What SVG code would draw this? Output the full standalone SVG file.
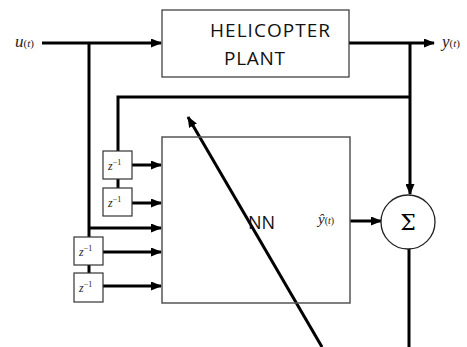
<svg xmlns="http://www.w3.org/2000/svg" width="467" height="347" viewBox="0 0 467 347">
<style>
.box{fill:#fff;stroke:#333;stroke-width:1.2}
.nn{fill:none;stroke:#555;stroke-width:1.5}
.w{fill:none;stroke:#000;stroke-width:3}
.lbl{font-family:"Open Sans","Liberation Sans",sans-serif;fill:#111}
.m{font-family:"Liberation Serif","DejaVu Serif",serif;font-style:italic;fill:#222}
.z{font-family:"Liberation Serif","DejaVu Serif",serif;font-style:italic;font-size:12px;fill:#222}
</style>
<defs>
<marker id="ah" markerWidth="11" markerHeight="9" refX="10" refY="4.5" orient="auto" markerUnits="userSpaceOnUse">
<path d="M0,0 L11,4.5 L0,9 Z" fill="#000"/>
</marker>
</defs>
<rect width="467" height="347" fill="#fff"/>
<g id="connectors">
<path class="w" d="M42,43 H161" marker-end="url(#ah)"/>
<path class="w" d="M349,43 H434" marker-end="url(#ah)"/>
<path class="w" d="M89,43 V237"/>
<path class="w" d="M89,228 H161" marker-end="url(#ah)"/>
<path class="w" d="M89,265 V273"/>
<path class="w" d="M103,252 H161" marker-end="url(#ah)"/>
<path class="w" d="M103,286 H161" marker-end="url(#ah)"/>
<path class="w" d="M410,43 V194" marker-end="url(#ah)"/>
<path class="w" d="M410,97 H118 V151"/>
<path class="w" d="M118,179 V188"/>
<path class="w" d="M132,165 H161" marker-end="url(#ah)"/>
<path class="w" d="M132,203 H161" marker-end="url(#ah)"/>
<path class="w" d="M350,221 H381" marker-end="url(#ah)"/>
<path class="w" d="M409,249 V347"/>
<path class="w" d="M322,347 L188,117" marker-end="url(#ah)"/>
</g>
<g id="plant">
<rect class="box" x="162" y="10" width="187" height="67"/>
<text class="lbl" x="210" y="37" font-size="19" textLength="120" lengthAdjust="spacing">HELICOPTER</text>
<text class="lbl" x="224" y="65" font-size="19" textLength="61" lengthAdjust="spacing">PLANT</text>
</g>
<g id="nn">
<rect class="nn" x="162" y="137" width="188" height="166"/>
<text class="lbl" x="248" y="229" font-size="18">NN</text>
<text class="m" x="318" y="224" font-size="15">ŷ<tspan font-size="10" font-style="normal">(</tspan><tspan font-size="10">t</tspan><tspan font-size="10" font-style="normal">)</tspan></text>
</g>
<g id="sum">
<circle cx="408" cy="222" r="27" fill="#fff" stroke="#222" stroke-width="1.3"/>
<text x="408" y="230" font-size="22" text-anchor="middle" font-family="'DejaVu Serif','Liberation Serif',serif">Σ</text>
</g>
<g id="z1">
<rect class="box" x="103" y="151" width="29" height="28"/>
<text class="z" x="108" y="170">z<tspan font-style="normal" font-size="8" dy="-5">−1</tspan></text>
</g>
<g id="z2">
<rect class="box" x="103" y="188" width="29" height="28"/>
<text class="z" x="108" y="207">z<tspan font-style="normal" font-size="8" dy="-5">−1</tspan></text>
</g>
<g id="z3">
<rect class="box" x="74" y="237" width="29" height="28"/>
<text class="z" x="79" y="256">z<tspan font-style="normal" font-size="8" dy="-5">−1</tspan></text>
</g>
<g id="z4">
<rect class="box" x="74" y="273" width="29" height="29"/>
<text class="z" x="79" y="292">z<tspan font-style="normal" font-size="8" dy="-5">−1</tspan></text>
</g>
<g id="labels">
<text class="m" x="15" y="47" font-size="17">u<tspan font-size="11" font-style="normal">(</tspan><tspan font-size="11">t</tspan><tspan font-size="11" font-style="normal">)</tspan></text>
<text class="m" x="442" y="47" font-size="17">y<tspan font-size="11" font-style="normal">(</tspan><tspan font-size="11">t</tspan><tspan font-size="11" font-style="normal">)</tspan></text>
</g>
</svg>
